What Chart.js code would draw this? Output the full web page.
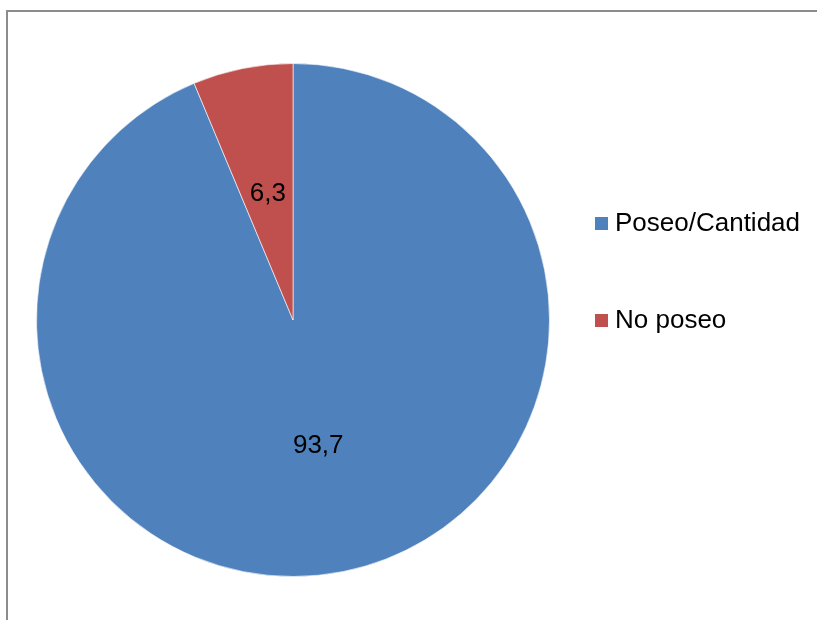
<!DOCTYPE html>
<html>
<head>
<meta charset="utf-8">
<script src="https://cdn.jsdelivr.net/npm/chart.js@4/dist/chart.umd.min.js"></script>
<style>
  html,body{margin:0;padding:0;background:#fff;overflow:hidden}
  #frame{position:absolute;left:6px;top:10px;width:900px;height:700px;border:2px solid #8c8c8c;box-sizing:border-box}
  #wrap{position:absolute;left:0;top:0;width:817px;height:620px}
</style>
</head>
<body>
<div id="frame"></div>
<div id="wrap"><canvas id="c" width="817" height="620"></canvas></div>
<script>
// data
const labels=['Poseo/Cantidad','No poseo'];
const values=[93.7,6.3];
const colors=['#4F81BD','#C0504D'];

const FONT='26px "Liberation Sans", Arial, sans-serif';

// value labels inside slices + legend on the right
const drawText={
  id:'drawText',
  afterDatasetsDraw(chart){
    const ctx=chart.ctx, meta=chart.getDatasetMeta(0);
    ctx.save();
    ctx.font=FONT; ctx.fillStyle='#000';
    ctx.textAlign='center'; ctx.textBaseline='middle';
    meta.data.forEach((arc,i)=>{
      const p=arc.tooltipPosition();
      ctx.fillText(String(values[i]).replace('.',','),p.x,p.y);
    });
    // legend
    ctx.textAlign='left';
    const lx=595, ly=[223,320];
    labels.forEach((l,i)=>{
      ctx.fillStyle=colors[i];
      ctx.fillRect(lx,ly[i]-6,13,13);
      ctx.fillStyle='#000';
      ctx.fillText(l,lx+20,ly[i]+1);
    });
    ctx.restore();
  }
};

new Chart(document.getElementById('c'),{
  type:'pie',
  data:{labels,datasets:[{data:values,backgroundColor:colors,borderColor:'rgba(255,255,255,0.6)',borderWidth:1}]},
  options:{
    responsive:false,animation:false,
    layout:{padding:{left:36,top:63,right:267,bottom:43}},
    plugins:{legend:{display:false},tooltip:{enabled:false}}
  },
  plugins:[drawText]
});
</script>
</body>
</html>
